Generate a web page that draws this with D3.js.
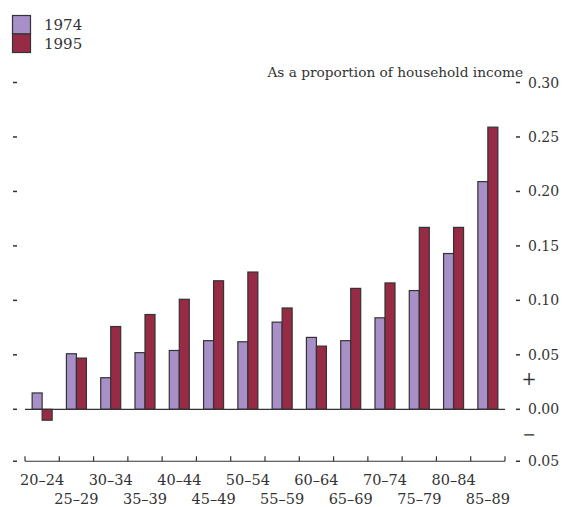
<!DOCTYPE html>
<html><head><meta charset="utf-8">
<script src="https://cdn.jsdelivr.net/npm/d3@7"></script>
<style>body{margin:0;background:#fff}svg{display:block}</style>
</head><body>
<script>
const categories = ["20–24","25–29","30–34","35–39","40–44","45–49","50–54","55–59","60–64","65–69","70–74","75–79","80–84","85–89"];
const series = ["1974","1995"];
const values1974 = [0.015,0.051,0.029,0.052,0.054,0.063,0.062,0.080,0.066,0.063,0.084,0.109,0.143,0.209];
const values1995 = [-0.010,0.047,0.076,0.087,0.101,0.118,0.126,0.093,0.058,0.111,0.116,0.167,0.167,0.259];
const yTicks = [0.30,0.25,0.20,0.15,0.10,0.05,0.00,-0.05];
const yTickLabels = ["0.30","0.25","0.20","0.15","0.10","0.05","0.00","0.05"];
const colors = ["#a78fc7","#972b45"];
const title = "As a proportion of household income";

const W=565,H=507;
const font = "'DejaVu Serif', serif";
const svg=d3.select("body").append("svg").attr("width",W).attr("height",H);

const x=d3.scaleBand().domain(categories).range([25,505]).padding(0);
const y=d3.scaleLinear().domain([0,0.30]).range([409.3,82.5]);
const bw=10;

// bars
const data = categories.map((c,i)=>({c, v:[values1974[i],values1995[i]]}));
const g=svg.append("g");
data.forEach(d=>{
  d.v.forEach((v,j)=>{
    const cx=x(d.c)+x.bandwidth()/2;
    g.append("rect")
      .attr("x", cx - bw + j*bw)
      .attr("y", Math.min(y(v),y(0)))
      .attr("width", bw)
      .attr("height", Math.abs(y(v)-y(0)))
      .attr("fill", colors[j])
      .attr("stroke","#333")
      .attr("stroke-width",1.2);
  });
});

// zero line
svg.append("line").attr("x1",25).attr("x2",505).attr("y1",y(0)).attr("y2",y(0))
  .attr("stroke","#333").attr("stroke-width",1.2);

// bottom axis
const yb = y(-0.05)-2.5;
const xAxis = d3.axisBottom(x).tickSize(0).tickFormat("");
const ax = svg.append("g").attr("transform",`translate(0,${yb})`).call(xAxis);
ax.select(".domain").attr("stroke","#333").attr("stroke-width",1.2).attr("d",`M25,0H505`);
const edges = categories.map(c=>x(c)).concat([x.range()[1]]);
svg.selectAll(".etick").data(edges).enter().append("line")
  .attr("x1",d=>d).attr("x2",d=>d).attr("y1",yb-5).attr("y2",yb)
  .attr("stroke","#333").attr("stroke-width",1.2);
svg.selectAll(".xl").data(categories).enter().append("text")
  .attr("x",d=>x(d)+x.bandwidth()/2)
  .attr("y",(d,i)=> i%2===0 ? 485 : 504)
  .attr("text-anchor","middle")
  .attr("font-family",font).attr("font-size",14.5).attr("fill","#333")
  .text(d=>d);

// y ticks left & right
const yPos = v => v===-0.05 ? yb : y(v);
yTicks.forEach((t,i)=>{
  svg.append("line").attr("x1",13).attr("x2",17).attr("y1",yPos(t)).attr("y2",yPos(t)).attr("stroke","#333").attr("stroke-width",1.5);
  svg.append("line").attr("x1",516).attr("x2",520).attr("y1",yPos(t)).attr("y2",yPos(t)).attr("stroke","#333").attr("stroke-width",1.5);
  svg.append("text").attr("x",528).attr("y",yPos(t)+5)
    .attr("font-family",font).attr("font-size",14).attr("fill","#333").text(yTickLabels[i]);
});
svg.append("text").attr("x",529).attr("y",385).attr("text-anchor","middle")
  .attr("font-family",font).attr("font-size",18).attr("fill","#333").text("+");
svg.append("text").attr("x",529).attr("y",440).attr("text-anchor","middle")
  .attr("font-family",font).attr("font-size",16).attr("fill","#333").text("−");

svg.append("text").attr("x",523).attr("y",77).attr("text-anchor","end")
  .attr("font-family",font).attr("font-size",13.7).attr("fill","#333").text(title);

// legend
series.forEach((s,i)=>{
  svg.append("rect").attr("x",12.5).attr("y",15.5+i*18.5).attr("width",18).attr("height",18.5)
    .attr("fill",colors[i]).attr("stroke","#333").attr("stroke-width",1.2);
  svg.append("text").attr("x",44).attr("y",30+i*19)
    .attr("font-family",font).attr("font-size",15).attr("fill","#333").text(s);
});
</script>
</body></html>
